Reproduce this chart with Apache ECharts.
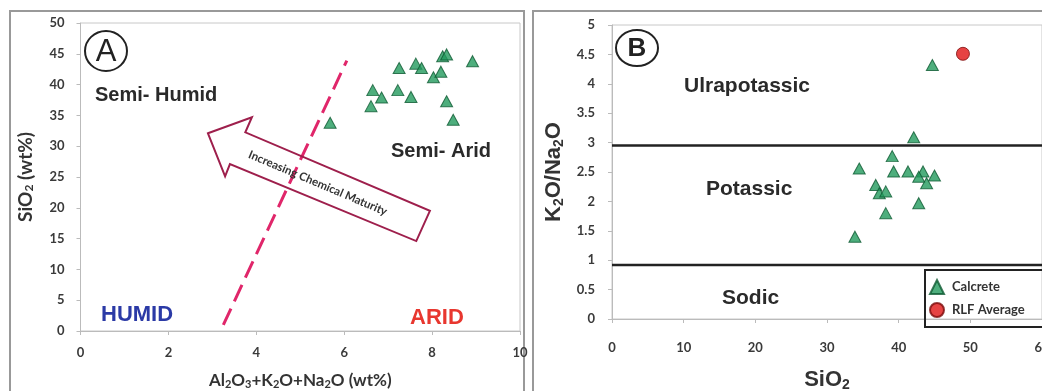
<!DOCTYPE html>
<html>
<head>
<meta charset="utf-8">
<script src="https://cdn.jsdelivr.net/npm/echarts@6/dist/echarts.min.js"></script>
<style>
  html, body { margin: 0; padding: 0; background: #fff; }
  #chart { width: 1042px; height: 391px; }
</style>
</head>
<body>
<div id="chart"></div>
<script>
// panel A : Al2O3+K2O+Na2O vs SiO2
const alkSum  = [5.68, 7.25, 6.65, 6.61, 6.85, 7.22, 7.52, 7.63, 7.76, 8.03, 8.20, 8.24, 8.33, 8.33, 8.48, 8.92];
const silicaA = [33.8, 42.7, 39.1, 36.5, 37.9, 39.1, 38.0, 43.4, 42.7, 41.2, 42.1, 44.6, 44.9, 37.3, 34.3, 43.8];
const climateLineX = [3.25, 6.06];
const climateLineY = [1.0, 43.9];

// panel B : SiO2 vs K2O/Na2O
const silicaB = [44.7, 42.1, 39.1, 34.5, 39.3, 41.3, 43.4, 42.8, 45.0, 43.9, 36.8, 37.3, 38.2, 42.8, 38.2, 33.9];
const ratioB  = [4.32, 3.09, 2.77, 2.56, 2.51, 2.51, 2.51, 2.42, 2.44, 2.31, 2.28, 2.14, 2.17, 1.97, 1.80, 1.40];
const rlfAverage = [48.97, 4.51];
const boundaryRatios = [2.95, 0.92];

// axis ranges / ticks
const xTicksA = { min: 0, max: 10, interval: 2 };
const yTicksA = { min: 0, max: 50, interval: 5 };
const xTicksB = { min: 0, max: 60, interval: 10 };
const yTicksB = { min: 0, max: 5, interval: 0.5 };

const chart = echarts.init(document.getElementById('chart'));

const tickLabel = { fontFamily: 'Lato', fontWeight: 'bold', fontSize: 13, color: '#3a3a3a' };
const axisCommon = {
  axisLine: { show: true, lineStyle: { color: '#bbb', width: 1 } },
  axisTick: { show: true, length: 4, lineStyle: { color: '#bbb' } },
  splitLine: { show: false }
};
const sub = (size, pad) => ({ fontSize: size, fontWeight: 'bold', fontFamily: 'Lato', color: '#333', padding: [pad, 0, 0, 0] });
const bigRich = {
  b: { fontSize: 22, fontWeight: 'bold', fontFamily: 'Liberation Sans', color: '#333' },
  s: { fontSize: 14, fontWeight: 'bold', fontFamily: 'Liberation Sans', color: '#333', padding: [10, 0, 0, 0] }
};

// hollow arrow "Increasing Chemical Maturity", in data units of panel A
const arrowShape = [[2.90, 32.1], [3.90, 34.7], [3.75, 32.25], [7.95, 19.5], [7.64, 14.6], [3.40, 27.1], [3.29, 25.1]];
const arrowTextAt = [5.40, 24.0];

const option = {
  animation: false,
  grid: [
    { left: 80.5, top: 23, width: 439.5, height: 308, show: true, borderColor: '#c8c8c8', borderWidth: 1, outerBoundsMode: 'none', containLabel: false },
    { left: 612, top: 25, width: 430, height: 294, show: true, borderColor: '#c8c8c8', borderWidth: 1, outerBoundsMode: 'none', containLabel: false }
  ],
  xAxis: [
    Object.assign({
      gridIndex: 0, type: 'value', ...xTicksA,
      axisLabel: { ...tickLabel, margin: 15 },
      name: '{b|Al}{s|2}{b|O}{s|3}{b|+K}{s|2}{b|O+Na}{s|2}{b|O (wt%)}',
      nameLocation: 'middle', nameGap: 41,
      nameTextStyle: { rich: { b: { fontSize: 17, fontWeight: 'bold', fontFamily: 'Lato', color: '#333' }, s: sub(11, 7) } }
    }, axisCommon),
    Object.assign({
      gridIndex: 1, type: 'value', ...xTicksB,
      axisLabel: { ...tickLabel, margin: 22 },
      name: '{b|SiO}{s|2}',
      nameLocation: 'middle', nameGap: 49,
      nameTextStyle: { rich: bigRich }
    }, axisCommon)
  ],
  yAxis: [
    Object.assign({
      gridIndex: 0, type: 'value', ...yTicksA,
      axisLabel: { ...tickLabel, margin: 16 },
      name: '{b|SiO}{s|2}{b| (wt%)}',
      nameLocation: 'middle', nameGap: 45, nameRotate: 90,
      nameTextStyle: { rich: { b: { fontSize: 19, fontWeight: 'bold', fontFamily: 'Lato', color: '#333' }, s: sub(12, 8) } }
    }, axisCommon),
    Object.assign({
      gridIndex: 1, type: 'value', ...yTicksB,
      axisLabel: { ...tickLabel, margin: 17 },
      name: '{b|K}{s|2}{b|O/Na}{s|2}{b|O}',
      nameLocation: 'middle', nameGap: 46, nameRotate: 90,
      nameTextStyle: { rich: bigRich }
    }, axisCommon)
  ],
  legend: {
    data: ['Calcrete', 'RLF Average'],
    orient: 'vertical',
    left: 925, top: 270,
    padding: [9, 60, 9, 4],
    itemGap: 7, itemWidth: 14, itemHeight: 14,
    borderColor: '#222', borderWidth: 2, borderRadius: 0,
    selectedMode: false,
    textStyle: { fontFamily: 'Lato', fontWeight: 'bold', fontSize: 13, color: '#333', padding: [0, 0, 0, 3] }
  },
  series: [
    {
      name: 'climate boundary', type: 'line', xAxisIndex: 0, yAxisIndex: 0,
      data: climateLineX.map((x, i) => [x, climateLineY[i]]),
      symbol: 'none', silent: true, z: 1,
      lineStyle: { color: '#e0266a', width: 3, type: [18, 8] }
    },
    {
      name: 'arrow', type: 'custom', xAxisIndex: 0, yAxisIndex: 0, silent: true, z: 2,
      data: [[0, 0]],
      renderItem: (params, api) => {
        const pts = arrowShape.map(p => api.coord(p));
        const c = api.coord(arrowTextAt);
        return {
          type: 'group',
          children: [
            { type: 'polygon', shape: { points: pts }, style: { fill: 'none', stroke: '#9e1f4c', lineWidth: 2 } },
            {
              type: 'text', x: c[0], y: c[1], rotation: -0.40,
              style: { text: 'Increasing Chemical Maturity', fontFamily: 'Lato', fontWeight: 'bold', fontSize: 11.5, fill: '#333', align: 'center', verticalAlign: 'middle' }
            }
          ]
        };
      }
    },
    {
      name: 'Calcrete', type: 'scatter', xAxisIndex: 0, yAxisIndex: 0, z: 3,
      data: alkSum.map((x, i) => [x, silicaA[i]]),
      symbol: 'triangle', symbolSize: [12, 11],
      itemStyle: { color: '#229a5c', borderColor: '#0e5a32', borderWidth: 1 }
    },
    ...boundaryRatios.map(r => ({
      name: 'boundary ' + r, type: 'line', xAxisIndex: 1, yAxisIndex: 1,
      data: [[xTicksB.min, r], [xTicksB.max, r]],
      symbol: 'none', silent: true, z: 1,
      lineStyle: { color: '#222', width: 2.5 }
    })),
    {
      name: 'Calcrete', type: 'scatter', xAxisIndex: 1, yAxisIndex: 1, z: 3,
      data: silicaB.map((x, i) => [x, ratioB[i]]),
      symbol: 'triangle', symbolSize: [12, 11],
      itemStyle: { color: '#229a5c', borderColor: '#0e5a32', borderWidth: 1 }
    },
    {
      name: 'RLF Average', type: 'scatter', xAxisIndex: 1, yAxisIndex: 1, z: 3,
      data: [rlfAverage],
      symbol: 'circle', symbolSize: 13,
      itemStyle: { color: '#e01414', borderColor: '#7a0a0a', borderWidth: 1 }
    }
  ],
  graphic: [
    // panel frames
    { type: 'rect', shape: { x: 10, y: 11, width: 514, height: 400 }, style: { fill: 'none', stroke: '#999', lineWidth: 2 }, z: -1 },
    { type: 'rect', shape: { x: 533, y: 11, width: 520, height: 400 }, style: { fill: 'none', stroke: '#999', lineWidth: 2 }, z: -1 },
    // panel letters
    { type: 'ellipse', shape: { cx: 106, cy: 51, rx: 21, ry: 20 }, style: { fill: 'none', stroke: '#222', lineWidth: 2 } },
    { type: 'text', x: 106, y: 52, style: { text: 'A', fontFamily: 'Liberation Sans', fontSize: 31, fill: '#222', align: 'center', verticalAlign: 'middle' } },
    { type: 'ellipse', shape: { cx: 637, cy: 48, rx: 21, ry: 18 }, style: { fill: 'none', stroke: '#222', lineWidth: 2 } },
    { type: 'text', x: 637, y: 49, style: { text: 'B', fontFamily: 'Liberation Sans', fontWeight: 'bold', fontSize: 26, fill: '#222', align: 'center', verticalAlign: 'middle' } },
    // field names, panel A
    { type: 'text', x: 95, y: 95, style: { text: 'Semi- Humid', fontFamily: 'Liberation Sans', fontWeight: 'bold', fontSize: 20, fill: '#2a2a2a', verticalAlign: 'middle' } },
    { type: 'text', x: 391, y: 151, style: { text: 'Semi- Arid', fontFamily: 'Liberation Sans', fontWeight: 'bold', fontSize: 20, fill: '#2a2a2a', verticalAlign: 'middle' } },
    { type: 'text', x: 101, y: 315, style: { text: 'HUMID', fontFamily: 'Liberation Sans', fontWeight: 'bold', fontSize: 22, fill: '#2b3aa6', verticalAlign: 'middle' } },
    { type: 'text', x: 410, y: 318, style: { text: 'ARID', fontFamily: 'Liberation Sans', fontWeight: 'bold', fontSize: 22, fill: '#e8372f', verticalAlign: 'middle' } },
    // field names, panel B
    { type: 'text', x: 684, y: 86, style: { text: 'Ulrapotassic', fontFamily: 'Liberation Sans', fontWeight: 'bold', fontSize: 21, fill: '#2a2a2a', verticalAlign: 'middle' } },
    { type: 'text', x: 706, y: 189, style: { text: 'Potassic', fontFamily: 'Liberation Sans', fontWeight: 'bold', fontSize: 21, fill: '#2a2a2a', verticalAlign: 'middle' } },
    { type: 'text', x: 722, y: 298, style: { text: 'Sodic', fontFamily: 'Liberation Sans', fontWeight: 'bold', fontSize: 21, fill: '#2a2a2a', verticalAlign: 'middle' } }
  ]
};

chart.setOption(option);
</script>
</body>
</html>
